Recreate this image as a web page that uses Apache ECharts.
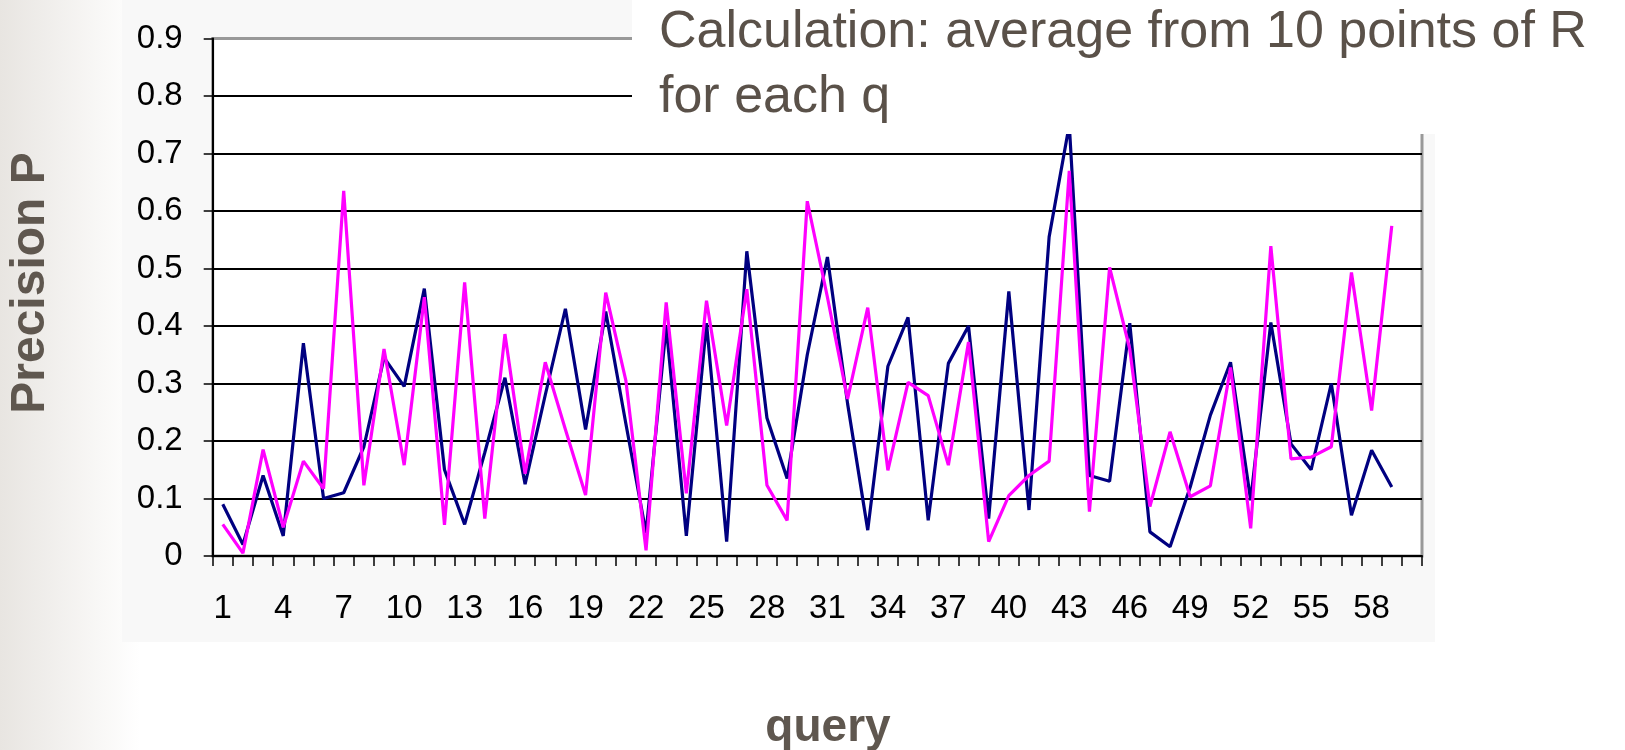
<!DOCTYPE html>
<html>
<head>
<meta charset="utf-8">
<script src="https://cdn.jsdelivr.net/npm/echarts@6/dist/echarts.min.js"></script>
<style>
html,body{margin:0;padding:0;background:#fff;}
#chart{width:1625px;height:750px;}
</style>
</head>
<body>
<div id="chart"></div>
<script>
// ---- data ----
const queries = ['1','2','3','4','5','6','7','8','9','10','11','12','13','14','15','16','17','18','19','20',
  '21','22','23','24','25','26','27','28','29','30','31','32','33','34','35','36','37','38','39','40',
  '41','42','43','44','45','46','47','48','49','50','51','52','53','54','55','56','57','58','59','60'];

const precisionNavy = [0.09,0.02,0.14,0.035,0.37,0.10,0.11,0.19,0.345,0.295,
  0.465,0.15,0.055,0.18,0.31,0.125,0.28,0.43,0.22,0.425,
  0.23,0.04,0.40,0.035,0.405,0.025,0.53,0.24,0.135,0.35,
  0.52,0.265,0.045,0.33,0.415,0.062,0.335,0.40,0.065,0.46,
  0.08,0.555,0.75,0.14,0.13,0.405,0.042,0.016,0.12,0.245,
  0.337,0.097,0.406,0.195,0.15,0.30,0.071,0.184,0.12];

const precisionMagenta = [0.055,0.005,0.185,0.05,0.165,0.117,0.635,0.123,0.36,0.158,
  0.45,0.054,0.476,0.065,0.386,0.143,0.337,0.22,0.106,0.458,
  0.305,0.01,0.441,0.109,0.444,0.227,0.464,0.123,0.062,0.617,
  0.45,0.273,0.432,0.149,0.302,0.279,0.158,0.372,0.025,0.105,
  0.14,0.165,0.67,0.077,0.502,0.36,0.086,0.216,0.103,0.122,
  0.328,0.048,0.539,0.169,0.172,0.19,0.493,0.253,0.574];

const yAxisTitle = 'Precision P';
const xAxisTitle = 'query';
const noteLines = ['Calculation: average from 10 points of R', 'for each q'];

// ---- chart ----
const FONT = '"Liberation Sans", Arial, sans-serif';
const chart = echarts.init(document.getElementById('chart'), null, {renderer: 'canvas'});

const splitColors = ['#000','#000','#000','#000','#000','#000','#000','#000','#000','#999'];

chart.setOption({
  animation: false,
  backgroundColor: '#ffffff',
  grid: {
    left: 212.7, right: 203, top: 38.5, bottom: 194,
    show: true, backgroundColor: '#ffffff', borderColor: '#999', borderWidth: 3
  },
  xAxis: {
    type: 'category',
    data: queries,
    boundaryGap: true,
    axisLine: {show: true, lineStyle: {color: '#000', width: 2}},
    axisTick: {show: true, interval: 0, length: 10, lineStyle: {color: '#000', width: 1.5}},
    axisLabel: {interval: 2, color: '#000', fontSize: 33, fontFamily: FONT, margin: 36},
    splitLine: {show: false}
  },
  yAxis: {
    type: 'value',
    min: 0, max: 0.9, interval: 0.1,
    axisLine: {show: true, lineStyle: {color: '#000', width: 2}},
    axisTick: {show: true, length: 9, lineStyle: {color: '#000', width: 1.5}},
    axisLabel: {color: '#000', fontSize: 33, fontFamily: FONT, margin: 30},
    splitLine: {show: true, lineStyle: {color: splitColors, width: 1.8}}
  },
  series: [
    {
      type: 'line', data: precisionNavy, symbol: 'none',
      lineStyle: {color: '#000080', width: 3.2}, z: 3
    },
    {
      type: 'line', data: precisionMagenta, symbol: 'none',
      lineStyle: {color: '#ff00ff', width: 3.2}, z: 4
    }
  ],
  graphic: [
    {
      type: 'rect', z: -5, silent: true,
      shape: {x: 0, y: 0, width: 140, height: 750},
      style: {fill: new echarts.graphic.LinearGradient(0, 0, 1, 0, [
        {offset: 0, color: '#e8e5e1'}, {offset: 1, color: '#ffffff'}])}
    },
    {
      type: 'rect', z: -4, silent: true,
      shape: {x: 122, y: 0, width: 1313, height: 642},
      style: {fill: '#f8f8f8'}
    },
    {
      type: 'rect', z: 50, silent: true,
      shape: {x: 632, y: 0, width: 993, height: 134},
      style: {fill: '#ffffff'}
    },
    {
      type: 'text', z: 51, x: 659, y: 33,
      style: {text: noteLines[0], font: '52px ' + FONT, fill: '#5a5149',
        textAlign: 'left', textVerticalAlign: 'middle'}
    },
    {
      type: 'text', z: 51, x: 659, y: 98,
      style: {text: noteLines[1], font: '52px ' + FONT, fill: '#5a5149',
        textAlign: 'left', textVerticalAlign: 'middle'}
    },
    {
      type: 'text', z: 51, x: 31, y: 283, rotation: Math.PI / 2,
      style: {text: yAxisTitle, font: 'bold 48px ' + FONT, fill: '#5f574f',
        textAlign: 'center', textVerticalAlign: 'middle'}
    },
    {
      type: 'text', z: 51, x: 828, y: 728,
      style: {text: xAxisTitle, font: 'bold 46px ' + FONT, fill: '#5f574f',
        textAlign: 'center', textVerticalAlign: 'middle'}
    }
  ]
});
</script>
</body>
</html>
